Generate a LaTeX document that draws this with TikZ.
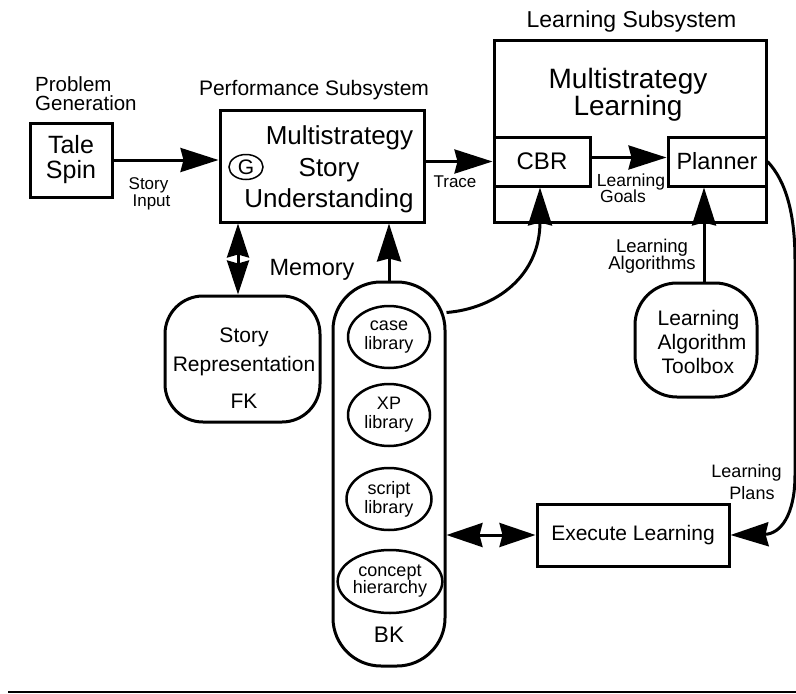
\documentclass[tikz,border=0pt]{standalone}
\usepackage{fontspec}
\setmainfont{Liberation Sans}
\usetikzlibrary{arrows.meta,shapes.geometric,calc}
\newcommand\setfs[2]{\fontsize{#1}{#2}\selectfont\lineskiplimit=-50pt\relax}
\begin{document}
\begin{tikzpicture}[x=1pt,y=-1pt,
  box/.style={draw, line width=3pt, inner sep=0pt, rectangle},
  rbox/.style={box, rounded corners=#1},
  lib/.style={draw, ellipse, line width=2.5pt, inner sep=0pt, minimum width=82pt, minimum height=62pt, align=center, font=\setfs{18}{19}},
  conn/.style={line width=3pt, -{Stealth[length=38pt,width=24pt,inset=3pt]}},
  dconn/.style={line width=3pt, {Stealth[length=36pt,width=24pt,inset=3pt]}-{Stealth[length=36pt,width=24pt,inset=3pt]}},
  dconnv/.style={line width=3pt, {Stealth[length=34pt,width=22pt,inset=3pt]}-{Stealth[length=34pt,width=22pt,inset=3pt]}},
  lbl/.style={inner sep=0pt, align=center}]
\useasboundingbox (0,0) rectangle (796,694);

% Problem generation
\node[lbl, anchor=west, align=left, font=\setfs{20.5}{19}] (pg) at (35,93.3) {Problem\\Generation};
\node[box, minimum width=82pt, minimum height=74pt, align=center, font=\setfs{25}{25}] (tale) at (71,160) {Tale\\Spin};
\node[lbl, font=\setfs{17}{17}] (si) at (148.5,194) {Story\\\hspace*{6pt}Input};

% Performance subsystem
\node[lbl, anchor=base, font=\setfs{21}{21}] (ps) at (314,95) {Performance Subsystem};
\node[box, minimum width=204pt, minimum height=112pt] (perf) at (322,166) {};
\node[lbl, font=\setfs{26}{31.5}] (perft) at (329,169.75) {\hspace*{21pt}Multistrategy\\Story\hspace*{6pt}\\Understanding};
\node[draw, ellipse, line width=1.5pt, minimum width=34pt, minimum height=25pt, inner sep=0pt, font=\setfs{21}{21}] (g) at (246,167) {G};
\node[lbl, anchor=base, font=\setfs{17}{17}] (tr) at (455,187) {Trace};

% Learning subsystem
\node[lbl, anchor=base, font=\setfs{23}{23}] (lsub) at (631.5,27) {Learning Subsystem};
\node[box, minimum width=272pt, minimum height=182pt] (ls) at (630,131) {};
\node[lbl, font=\setfs{28}{27}] (lst) at (628,94.3) {Multistrategy\\Learning};
\node[box, minimum width=96pt, minimum height=49pt, font=\setfs{24}{24}] (cbr) at (542,161.5) {CBR};
\node[box, minimum width=98pt, minimum height=49pt, font=\setfs{23.5}{24}] (pl) at (717,161.5) {Planner};
\node[lbl, font=\setfs{17.5}{16}] (lg) at (631,188) {Learning\\Goals\hspace*{16pt}};

% Learning algorithm toolbox
\node[lbl, font=\setfs{18.5}{17}] (la) at (652,255.9) {Learning\\Algorithms};
\node[rbox=42pt, minimum width=122pt, minimum height=114pt] (tb) at (696,340) {};
\node[lbl, align=left, font=\setfs{21}{24}] (tbt) at (702,341.5) {Learning\\Algorithm\\\hspace*{4pt}Toolbox};

% Memory
\node[lbl, anchor=base, font=\setfs{23.5}{24}] (mem) at (312,275) {Memory};
\node[rbox=38pt, minimum width=155pt, minimum height=126pt] (sr) at (242.5,359) {};
\node[lbl, font=\setfs{21}{29}] (srt) at (244,368.5) {Story\\Representation\\[8pt]FK};

\node[rbox=48pt, minimum width=112pt, minimum height=384pt] (bk) at (389,474) {};
\node[lib] (case) at (389,337) {case\\library};
\node[lib] (xp) at (389,415) {XP\\library};
\node[lib, minimum width=85pt] (script) at (389,499) {script\\library};
\node[lib, minimum width=93pt, minimum height=63pt, font=\setfs{18}{17}] (concept) at (390,581.5) {concept\\hierarchy};
\node[lbl, anchor=base, font=\setfs{22.5}{23}] (bkt) at (389,642) {BK};

% Execute learning
\node[box, minimum width=192pt, minimum height=62pt, font=\setfs{21}{21}] (ex) at (633,535) {Execute Learning};
\node[lbl, font=\setfs{18}{22}] (lp) at (746.5,482.5) {Learning\\\hspace*{11pt}Plans};

% helper coordinates
\coordinate (srtop) at ([xshift=-4.5pt]sr.north);
\coordinate (bkr) at ([yshift=-32pt]bk.north east);
\coordinate (cbrb) at ([xshift=-2pt]cbr.south);
\coordinate (tbtop) at ([xshift=8pt]tb.north);

% connectors
\draw[conn] (tale.east) -- (tale.east -| perf.west);
\draw[conn] (cbr.west -| perf.east) -- (cbr.west);
\draw[conn] ([yshift=4pt]cbr.east) -- ([yshift=4pt]pl.west);
\draw[dconnv] (srtop |- perf.south) -- (srtop);
\draw[conn] (bk.north) -- (bk.north |- perf.south);
\draw[conn] (bkr) .. controls +(50,-4) and +(0,88) .. (cbrb);
\draw[conn] (tbtop) -- (tbtop |- pl.south);
\draw[conn] (pl.east) .. controls +(19,20) and +(0,-45) .. (795,260) -- (795,475) .. controls +(0,40) and +(50,-1) .. (ex.east);
\draw[dconn] (ex.west -| bk.east) -- (ex.west);

% bottom rule
\draw[line width=2.5pt] (8,692) -- (796,692);
\end{tikzpicture}
\end{document}
